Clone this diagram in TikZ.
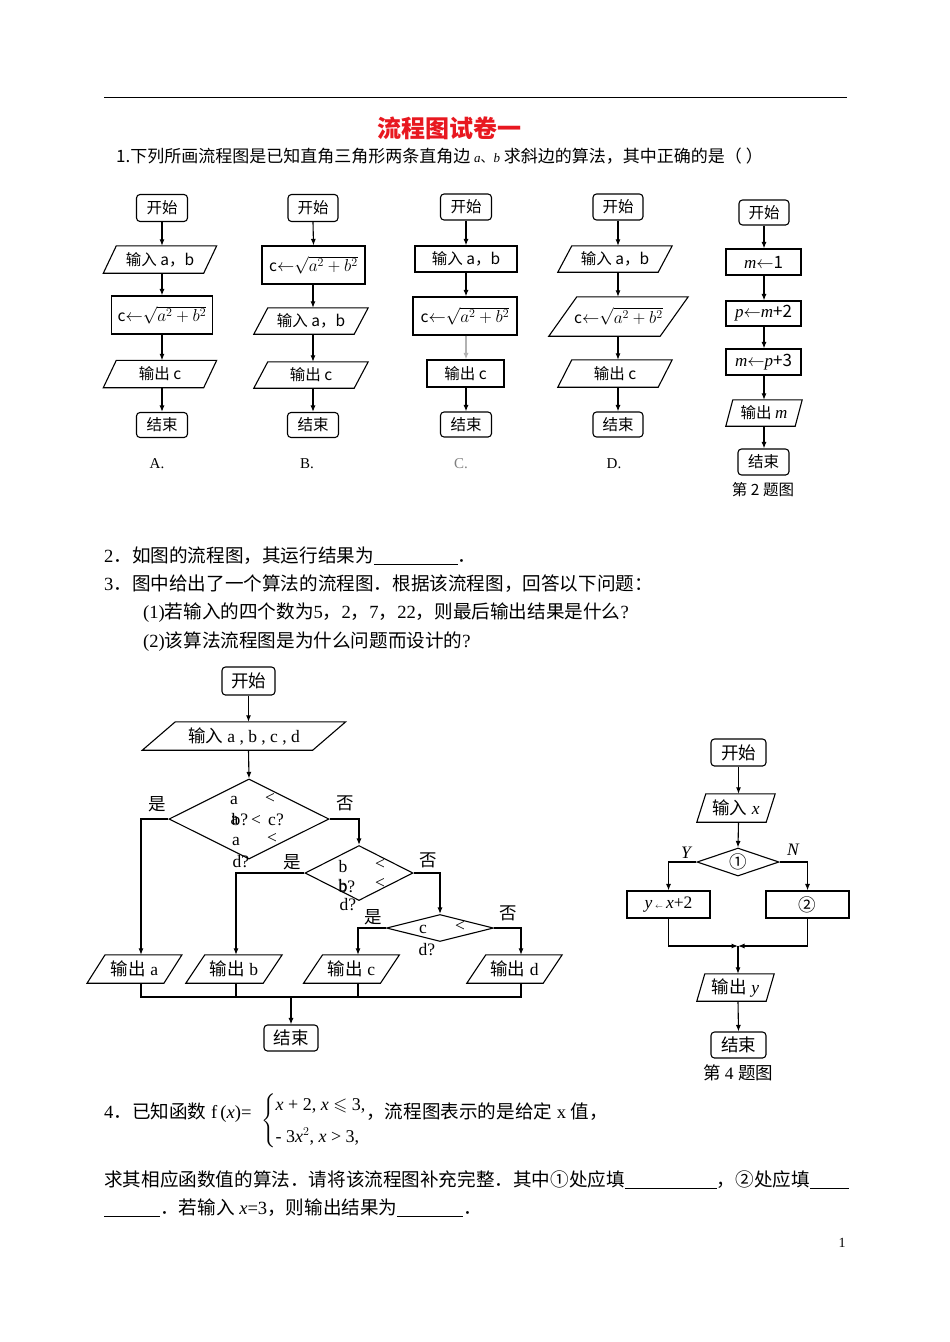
\documentclass[tikz,border=0pt]{standalone}
\usepackage{amssymb}
\usepackage{fontspec}
\setmainfont{Liberation Serif}
\newfontfamily\cjk{Noto Sans CJK SC}
\usetikzlibrary{shapes.geometric,arrows.meta}
\definecolor{titlered}{RGB}{232,24,32}
\newcommand{\zh}[1]{{\cjk #1}}
\newcommand{\larr}{${\leftarrow}$}
\newcommand{\hyp}{{\fontsize{17.5}{18}\selectfont${\leftarrow}\sqrt{a^2+b^2}$}}
\newcommand{\itx}[1]{{\rmfamily\itshape #1}}
% #1 style, #2 name, #3 x, #4 y, #5 width, #6 height, #7 half slant, #8 text
\newcommand{\parabox}[8]{%
  \node[#1, minimum width=#5pt, minimum height=#6pt, inner sep=0pt] (#2) at (#3,#4) {#8};
  \draw[ln] ([xshift=-#7pt]#2.south west) -- ([xshift=#7pt]#2.north west) -- ([xshift=#7pt]#2.north east) -- ([xshift=-#7pt]#2.south east) -- cycle;}
\tikzset{
  ln/.style={line width=1.1pt},
  arr/.style={ln, -{Latex[length=6.5pt,width=5pt]}},
  rbox/.style={draw, ln, rounded corners=3.5pt, inner sep=0pt},
  sbox/.style={draw, ln, inner sep=0pt},
  dia/.style={draw, ln, diamond, inner sep=0pt},
  sm/.style={font=\cjk\fontsize{15.5}{16}\selectfont},
  md/.style={font=\fontsize{17.5}{18}\selectfont},
  lab/.style={inner sep=0pt, font=\fontsize{17.5}{18}\selectfont},
  body/.style={inner sep=0pt, anchor=base west, font=\fontsize{18.6}{22}\selectfont},
}
\begin{document}
\begin{tikzpicture}[x=1pt,y=-1pt]
\fill[white] (0,0) rectangle (950,1342);
\useasboundingbox (0,0) rectangle (950,1342);
\draw[line width=0.8pt] (104,97) -- (847,97);
\node[font=\cjk\bfseries\fontsize{24}{24}\selectfont, text=titlered] (title) at (449,128) {流程图试卷一};
\node[inner sep=0pt, anchor=base west, font=\cjk\fontsize{17}{17}\selectfont] (q1) at (116,162.5) {1.下列所画流程图是已知直角三角形两条直角边 {\fontsize{13}{13}\selectfont \itx{a}、\itx{b}} 求斜边的算法，其中正确的是（ ）};

% ---------- Chart A ----------
\node[rbox, sm, minimum width=51pt, minimum height=27pt] (sA) at (162,208) {开始};
\parabox{sm}{iA}{160}{259.5}{100}{27}{6.5}{输入 a，b}
\node[sbox, sm, minimum width=101pt, minimum height=38pt] (cA) at (162,315) {c\hyp};
\parabox{sm}{oA}{160}{374}{100}{27}{6.5}{输出 c}
\node[rbox, sm, minimum width=51pt, minimum height=25pt] (eA) at (162,425) {结束};
\draw[arr] (sA.south) -- (sA.south |- iA.north);
\draw[arr] (sA.south |- iA.south) -- (cA.north);
\draw[arr] (cA.south) -- (cA.south |- oA.north);
\draw[arr] (cA.south |- oA.south) -- (eA.north);
\node[font=\fontsize{15}{15}\selectfont] (lA) at (157,464) {A.};

% ---------- Chart B ----------
\node[rbox, sm, minimum width=50pt, minimum height=27pt] (sB) at (313,208) {开始};
\node[sbox, sm, minimum width=103pt, minimum height=38pt] (cB) at (313.5,265) {c\hyp};
\parabox{sm}{iB}{311}{321}{100}{26}{7}{输入 a，b}
\parabox{sm}{oB}{311}{375}{100}{26}{7}{输出 c}
\node[rbox, sm, minimum width=51pt, minimum height=25pt] (eB) at (313,425) {结束};
\draw[arr] (sB.south) -- (cB.north);
\draw[arr] (sB.south |- cB.south) -- (sB.south |- iB.north);
\draw[arr] (sB.south |- iB.south) -- (sB.south |- oB.north);
\draw[arr] (sB.south |- oB.south) -- (eB.north);
\node[font=\fontsize{15}{15}\selectfont] (lB) at (307,464) {B.};

% ---------- Chart C ----------
\node[rbox, sm, minimum width=51pt, minimum height=26pt] (sC) at (466,207) {开始};
\node[sbox, sm, minimum width=102pt, minimum height=26pt] (iC) at (466,259) {输入 a，b};
\node[sbox, sm, minimum width=104pt, minimum height=38pt] (cC) at (465,316) {c\hyp};
\node[sbox, sm, minimum width=77pt, minimum height=27pt] (oC) at (465.5,373.5) {输出 c};
\node[rbox, sm, minimum width=51pt, minimum height=25pt] (eC) at (466,424.5) {结束};
\draw[arr] (sC.south) -- (iC.north);
\draw[arr] (iC.south) -- (iC.south |- cC.north);
\draw[arr, gray!60] (iC.south |- cC.south) -- (iC.south |- oC.north);
\draw[arr] (iC.south |- oC.south) -- (eC.north);
\node[font=\fontsize{15}{15}\selectfont, text=gray] (lC) at (461,464) {C.};

% ---------- Chart D ----------
\node[rbox, sm, minimum width=50pt, minimum height=26pt] (sD) at (618,207) {开始};
\parabox{sm}{iD}{615}{259}{100}{26}{7}{输入 a，b}
\parabox{sm}{cD}{618.5}{316.5}{111}{39}{14}{c\hyp}
\parabox{sm}{oD}{615}{373.5}{100}{27}{7}{输出 c}
\node[rbox, sm, minimum width=50pt, minimum height=25pt] (eD) at (618,424.5) {结束};
\draw[arr] (sD.south) -- (sD.south |- iD.north);
\draw[arr] (sD.south |- iD.south) -- (sD.south |- cD.north);
\draw[arr] (sD.south |- cD.south) -- (sD.south |- oD.north);
\draw[arr] (sD.south |- oD.south) -- (eD.north);
\node[font=\fontsize{15}{15}\selectfont] (lD) at (614,464) {D.};

% ---------- Chart 2 ----------
\node[rbox, sm, minimum width=50pt, minimum height=25pt] (s2) at (764,212.5) {开始};
\node[sbox, sm, minimum width=75pt, minimum height=26pt] (m1) at (763.5,262) {\fontsize{17}{17}\selectfont\itx{m}\larr1};
\node[sbox, sm, minimum width=75pt, minimum height=25pt] (p2) at (763.5,313.5) {\fontsize{17}{17}\selectfont\itx{p}\larr\itx{m}+2};
\node[sbox, sm, minimum width=75pt, minimum height=26pt] (m2) at (763.5,362) {\fontsize{17}{17}\selectfont\itx{m}\larr\itx{p}+3};
\parabox{sm}{o2}{764}{413}{69}{26}{3.5}{输出 {\fontsize{17}{17}\selectfont\itx{m}}}
\node[rbox, sm, minimum width=51pt, minimum height=26pt] (e2) at (763.5,462) {结束};
\draw[arr] (s2.south) -- (s2.south |- m1.north);
\draw[arr] (s2.south |- m1.south) -- (s2.south |- p2.north);
\draw[arr] (s2.south |- p2.south) -- (s2.south |- m2.north);
\draw[arr] (s2.south |- m2.south) -- (s2.south |- o2.north);
\draw[arr] (s2.south |- o2.south) -- (s2.south |- e2.north);
\node[sm] (cap2) at (763,490) {第 2 题图};

% ---------- Text lines ----------
\node[body] (q2) at (104,562) {2\zh{．如图的流程图，其运行结果为}\underline{\hspace{84pt}}\zh{．}};
\node[body] (q3) at (104,590) {3\zh{．图中给出了一个算法的流程图．根据该流程图，回答以下问题：}};
\node[body] (q31) at (143,618) {(1)\zh{若输入的四个数为}5\zh{，}2\zh{，}7\zh{，}22\zh{，则最后输出结果是什么}?};
\node[body] (q32) at (143,647) {(2)\zh{该算法流程图是为什么问题而设计的}?};

% ---------- Chart 3 ----------
\node[rbox, md, minimum width=53pt, minimum height=28pt] (s3) at (248.5,681) {\zh{开始}};
\parabox{md}{i3}{244}{736}{170}{28}{16.5}{\zh{输入} a , b , c , d}
\node[dia, minimum width=160pt, minimum height=80pt] (d1) at (249,819) {};
\node[dia, minimum width=108pt, minimum height=55pt] (d2) at (359,873) {};
\node[dia, minimum width=107pt, minimum height=27pt] (d3) at (440,928) {};
\draw[arr] (s3.south) -- (s3.south |- i3.north);
\draw[arr] (s3.south |- i3.south) -- (d1.north);
% garbled condition texts (overlapping as in the original)
\node[lab] (t1a) at (234,800) {a};
\node[lab] (t1b) at (270,798) {<};
\node[lab] (t1d) at (240,820) {b?};
\node[lab] (t1c) at (234.5,820) {a};
\node[lab] (t1e) at (256,820) {<};
\node[lab] (t1f) at (276,820) {c?};
\node[lab] (t1g) at (236,841) {a};
\node[lab] (t1h) at (272,838) {<};
\node[lab] (t1i) at (241,862) {d?};
\node[lab] (t2a) at (343,867) {b};
\node[lab] (t2b) at (380,864) {<};
\node[lab] (t2d) at (347,887) {b?};
\node[lab] (t2c) at (343,886) {b};
\node[lab] (t2e) at (380,883) {<};
\node[lab] (t2f) at (348,905) {d?};
\node[lab] (t3a) at (423,929) {c};
\node[lab] (t3b) at (460,926) {<};
\node[lab] (t3c) at (427,950) {d?};
% yes/no labels
\node[lab] (y1) at (157,804) {\zh{是}};
\node[lab] (n1) at (345,803) {\zh{否}};
\node[lab] (y2) at (292,862) {\zh{是}};
\node[lab] (n2) at (428,860) {\zh{否}};
\node[lab] (y3) at (373,917) {\zh{是}};
\node[lab] (n3) at (508,913) {\zh{否}};
% outputs
\parabox{md}{oa}{134.5}{969}{76.5}{28}{9}{\zh{输出} a}
\parabox{md}{ob}{234}{969}{77}{28}{9.5}{\zh{输出} b}
\parabox{md}{oc}{351.5}{969}{76.5}{28}{9.5}{\zh{输出} c}
\parabox{md}{od}{514.5}{969}{76}{28}{9.5}{\zh{输出} d}
\draw[arr] (d1.west) -| ([xshift=6.5pt]oa.north);
\draw[arr] (d1.east) -| (d2.north);
\draw[arr] (d2.west) -| ([xshift=2pt]ob.north);
\draw[arr] (d2.east) -| (d3.north);
\draw[arr] (d3.west) -| ([xshift=6.5pt]oc.north);
\draw[arr] (d3.east) -| ([xshift=6.5pt]od.north);
\node[rbox, md, minimum width=54pt, minimum height=26pt] (e3) at (291,1038) {\zh{结束}};
\coordinate (j3) at (291,997);
\draw[ln] ([xshift=6.5pt]oa.south) |- (j3);
\draw[ln] ([xshift=2pt]ob.south) |- (j3);
\draw[ln] ([xshift=6.5pt]oc.south) |- (j3);
\draw[ln] ([xshift=6.5pt]od.south) |- (j3);
\draw[arr] (j3) -- (e3.north);

% ---------- Chart 4 ----------
\node[rbox, md, minimum width=55pt, minimum height=27pt] (s4) at (738.5,752.5) {\zh{开始}};
\parabox{md}{i4}{736}{808}{69}{28}{4.5}{\zh{输入} \itx{x}}
\node[dia, minimum width=82pt, minimum height=28pt] (d4) at (738,862) {};
\node[lab] (d4t) at (738,862) {\zh{①}};
\node[sbox, md, minimum width=83pt, minimum height=27pt] (r1) at (668.5,904.5) {\itx{y}\,{\scriptsize$\leftarrow$}\,\itx{x}+2};
\node[sbox, md, minimum width=83pt, minimum height=27pt] (r2) at (807.5,904.5) {\zh{②}};
\node[lab, font=\itshape\fontsize{17.5}{18}\selectfont] (yl) at (686,853) {Y};
\node[lab, font=\itshape\fontsize{17.5}{18}\selectfont] (nl) at (793,850) {N};
\draw[arr] (s4.south) -- (s4.south |- i4.north);
\draw[arr] (s4.south |- i4.south) -- (d4.north);
\draw[arr] (d4.west) -| (r1.north);
\draw[arr] (d4.east) -| (r2.north);
\coordinate (j4) at (738,946);
\draw[arr] (r1.south) |- (j4);
\draw[arr] (r2.south) |- (j4);
\parabox{md}{o4}{735.5}{987.5}{69}{27}{4}{\zh{输出} \itx{y}}
\node[rbox, md, minimum width=55pt, minimum height=26pt] (e4) at (738.5,1045) {\zh{结束}};
\draw[arr] (j4) -- (j4 |- o4.north);
\draw[arr] (j4 |- o4.south) -- (e4.north);
\node[md] (cap4) at (738,1073) {\zh{第} 4 \zh{题图}};

% ---------- Question 4 ----------
\node[body] (q4) at (104,1118) {4\zh{．已知函数} f\,(\textit{x})=};
\node[inner sep=0pt, anchor=west, font=\fontsize{18}{26}\selectfont] (fx) at (261,1121) {$\left\{\begin{array}{@{}l@{}} \mbox{\itx{x} + 2, \itx{x} $\leqslant$ 3,}\\[6pt] \mbox{- 3\itx{x}$^{2}$, \itx{x} > 3,}\end{array}\right.$};
\node[body] (q4b) at (366,1118) {\zh{，流程图表示的是给定} x \zh{值，}};
\node[body] (q5) at (104,1186) {\zh{求其相应函数值的算法．请将该流程图补充完整．其中①处应填}\underline{\hspace{92pt}}\zh{，②处应填}\underline{\hspace{39pt}}};
\node[body] (q6) at (104,1214) {\underline{\hspace{56pt}}\zh{．若输入} \textit{x}=3\zh{，则输出结果为}\underline{\hspace{66pt}}\zh{．}};
\node[font=\fontsize{14}{14}\selectfont] (pg) at (842,1243) {1};
\end{tikzpicture}
\end{document}
